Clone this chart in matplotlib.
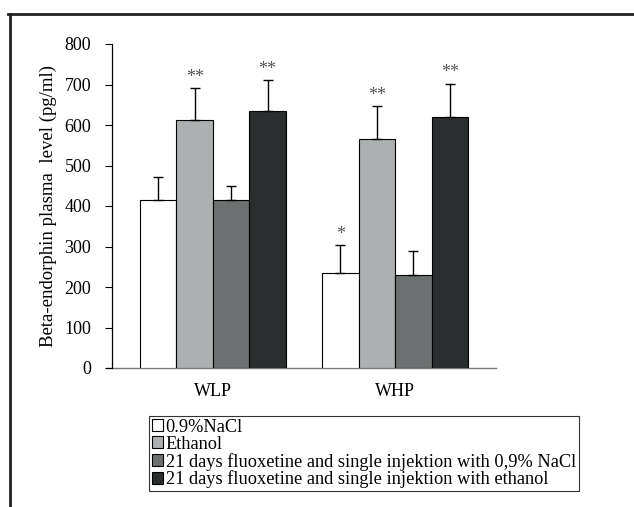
import numpy as np
import matplotlib.pyplot as plt
from matplotlib.patches import Patch

# Data
groups = ["WLP", "WHP"]
series = ["0.9%NaCl", "Ethanol",
          "21 days fluoxetine and single injektion with 0,9% NaCl",
          "21 days fluoxetine and single injektion with ethanol"]
means = [[415, 234],
         [612, 565],
         [415, 229],
         [635, 619]]
errs = [[57, 69],
        [79, 82],
        [35, 61],
        [76, 83]]
stars = [["", "*"],
         ["**", "**"],
         ["", ""],
         ["**", "**"]]
colors = ["#ffffff", "#adb0b0", "#6d7070", "#2a2e2e"]

plt.rcParams['font.family'] = ['Liberation Serif', 'DejaVu Serif']

fig = plt.figure(figsize=(6.34, 5.07), dpi=100)
ax = fig.add_axes([112/634, 1-368/507, (496-112)/634, (368-44)/507])

centers = np.array([0.0, 5.0])
for i in range(4):
    x = centers + (i - 1.5)
    ax.bar(x, means[i], width=1.0, color=colors[i], edgecolor="black",
           linewidth=0.8, zorder=2)
    ax.errorbar(x, means[i], yerr=[np.zeros(2), errs[i]], fmt="none",
                ecolor="black", elinewidth=1.0, capsize=3.5, capthick=1.0,
                zorder=3)
    for xi, m, e, s in zip(x, means[i], errs[i], stars[i]):
        if s:
            ax.text(xi, m + e + 6, s, ha="center", va="bottom",
                    fontsize=13, color="#555555")

ax.set_xlim(-2.77, 7.77)
ax.set_ylim(0, 800)
ax.set_yticks(range(0, 801, 100))
ax.set_xticks(centers)
ax.set_xticklabels(groups)
ax.tick_params(axis="x", length=0, pad=11, labelsize=13)
ax.tick_params(axis="y", direction="out", length=5, labelsize=13, pad=10,
               width=0.8)
for side in ["top", "right", "bottom"]:
    ax.spines[side].set_visible(False)
ax.spines["left"].set_linewidth(0.9)
# x axis line runs a little past the y axis, as in the original
ax.plot([-6/384, 1], [0, 0], transform=ax.transAxes, color="#777777",
        linewidth=1.0, clip_on=False, zorder=1)
ax.set_ylabel("Beta-endorphin plasma  level (pg/ml)", fontsize=13.5,
              labelpad=5)

handles = [Patch(facecolor=c, edgecolor="black", linewidth=0.8) for c in colors]
leg = fig.legend(handles, series, loc="upper left",
                 bbox_to_anchor=(149/634, 1-416/507), frameon=True,
                 fancybox=False, fontsize=13.2, handlelength=0.6,
                 handleheight=0.6, handletextpad=0.15, labelspacing=0.0,
                 borderpad=0.15, borderaxespad=0)
leg.get_frame().set_edgecolor("black")
leg.get_frame().set_linewidth(0.8)

# outer frame (top and left edges visible)
fig.add_artist(plt.Line2D([8/634, 1], [1-14/507, 1-14/507], color="#222222",
                          linewidth=2, transform=fig.transFigure))
fig.add_artist(plt.Line2D([10/634, 10/634], [0, 1-14/507], color="#222222",
                          linewidth=2, transform=fig.transFigure))

fig.savefig("out.png", dpi=100)
